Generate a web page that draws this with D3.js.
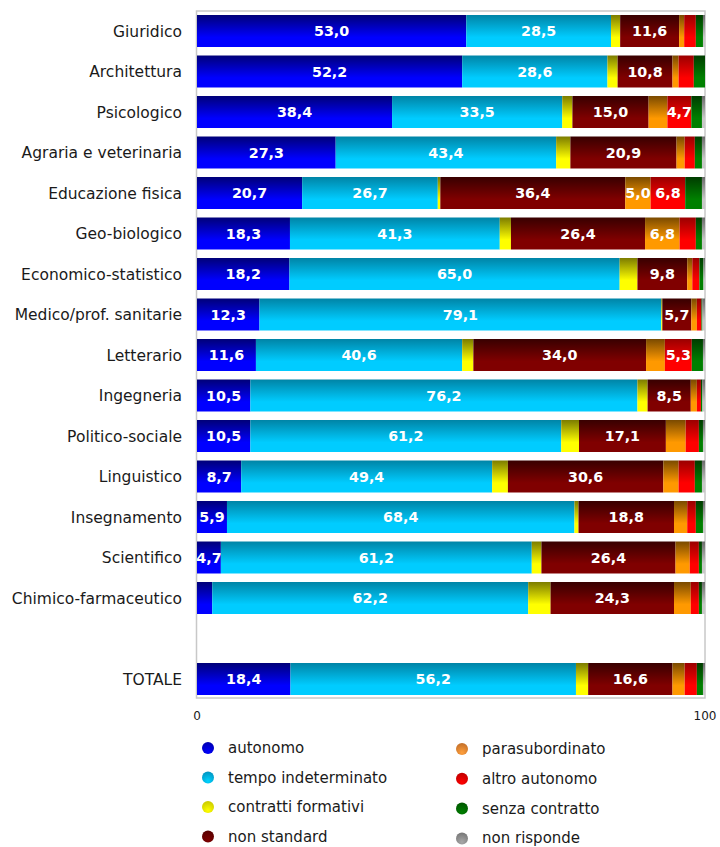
<!DOCTYPE html>
<html>
<head>
<meta charset="utf-8">
<script src="https://cdn.jsdelivr.net/npm/d3@7.9.0/dist/d3.min.js"></script>
<style>
  body { margin: 0; background: #fff; }
  svg { display: block; font-family: "DejaVu Sans", sans-serif; }
</style>
</head>
<body>
<svg id="chart" width="720" height="847"></svg>
<script>
const categories = ['Giuridico', 'Architettura', 'Psicologico', 'Agraria e veterinaria',
  'Educazione fisica', 'Geo-biologico', 'Economico-statistico', 'Medico/prof. sanitarie',
  'Letterario', 'Ingegneria', 'Politico-sociale', 'Linguistico', 'Insegnamento',
  'Scientifico', 'Chimico-farmaceutico', '', 'TOTALE'];

const seriesNames = ['autonomo', 'tempo indeterminato', 'contratti formativi', 'non standard',
  'parasubordinato', 'altro autonomo', 'senza contratto', 'non risponde'];

// one array per series, same order as categories (null = empty slot)
const autonomo     = [53.0, 52.2, 38.4, 27.3, 20.7, 18.3, 18.2, 12.3, 11.6, 10.5, 10.5, 8.7, 5.9, 4.7, 3.0, null, 18.4];
const tempoIndet   = [28.5, 28.6, 33.5, 43.4, 26.7, 41.3, 65.0, 79.1, 40.6, 76.2, 61.2, 49.4, 68.4, 61.2, 62.2, null, 56.2];
const formativi    = [1.8, 2.0, 2.0, 2.8, 0.5, 2.2, 3.5, 0.2, 2.2, 2.0, 3.5, 3.1, 0.8, 1.9, 4.4, null, 2.4];
const nonStandard  = [11.6, 10.8, 15.0, 20.9, 36.4, 26.4, 9.8, 5.7, 34.0, 8.5, 17.1, 30.6, 18.8, 26.4, 24.3, null, 16.6];
const parasub      = [1.0, 1.2, 3.7, 1.6, 5.0, 6.8, 1.0, 1.1, 3.7, 1.2, 3.9, 3.0, 2.6, 2.8, 3.3, null, 2.4];
const altroAuton   = [2.3, 3.0, 4.7, 2.0, 6.8, 3.2, 1.4, 0.9, 5.3, 0.8, 2.6, 3.2, 1.7, 1.8, 1.6, null, 2.4];
const senzaContr   = [1.4, 2.2, 2.1, 1.4, 3.3, 1.2, 0.8, 0.2, 2.2, 0.3, 0.8, 1.4, 1.4, 0.6, 0.6, null, 1.2];
const nonRisponde  = [0.4, 0.0, 0.6, 0.6, 0.6, 0.6, 0.3, 0.5, 0.4, 0.5, 0.4, 0.6, 0.4, 0.6, 0.6, null, 0.4];

const xTicks = [0, 100];

// gradient colours: [top, bottom]
const barColors = [
  ['#000078', '#0000ff'],
  ['#0084a6', '#00ccff'],
  ['#7c7c00', '#ffff00'],
  ['#380000', '#800000'],
  ['#7a4a00', '#ff9900'],
  ['#9a0000', '#ff0000'],
  ['#003c00', '#008000'],
  ['#6a6a6a', '#c8c8c8']
];
const dotColors = ['#0000cc', '#00aadd', '#e8e800', '#660000', '#e08030', '#dd0000', '#006600', '#888888'];

const allSeries = [autonomo, tempoIndet, formativi, nonStandard, parasub, altroAuton, senzaContr, nonRisponde];

const rows = categories.map((c, i) => {
  const r = { cat: c, key: 'r' + i };
  seriesNames.forEach((s, j) => r[s] = allSeries[j][i] || 0);
  return r;
});

const svg = d3.select('#chart');
const plotLeft = 197, plotRight = 705, plotTop = 10.75, plotBottom = 699.25;

const x = d3.scaleLinear().domain([0, 100]).range([plotLeft, plotRight]);
const y = d3.scaleBand().domain(rows.map(d => d.key)).range([plotTop, plotBottom]).paddingInner(0.21).paddingOuter(0.105);

const defs = svg.append('defs');
barColors.forEach((c, i) => {
  const g = defs.append('linearGradient').attr('id', 'bar' + i)
    .attr('x1', 0).attr('y1', 0).attr('x2', 0).attr('y2', 1);
  g.append('stop').attr('offset', '0').attr('stop-color', c[0]);
  g.append('stop').attr('offset', '0.7').attr('stop-color', c[1]);
  g.append('stop').attr('offset', '1').attr('stop-color', c[1]);
});
dotColors.forEach((c, i) => {
  const g = defs.append('radialGradient').attr('id', 'dot' + i)
    .attr('cx', 0.5).attr('cy', 0.8).attr('r', 0.8);
  g.append('stop').attr('offset', '0').attr('stop-color', d3.color(c).brighter(0.6));
  g.append('stop').attr('offset', '1').attr('stop-color', d3.color(c).darker(0.4));
});

// frame
svg.append('rect')
  .attr('x', plotLeft - 0.5).attr('y', 11)
  .attr('width', plotRight - plotLeft + 0.5).attr('height', 687)
  .attr('fill', 'none').attr('stroke', '#c8c8c8').attr('stroke-width', 1.5);

const stacked = d3.stack().keys(seriesNames)(rows.filter(d => d.cat !== ''));

const fmt = v => v.toFixed(1).replace('.', ',');

stacked.forEach((layer, i) => {
  const g = svg.append('g');
  g.selectAll('rect').data(layer).join('rect')
    .attr('x', d => x(d[0]))
    .attr('y', d => y(d.data.key))
    .attr('width', d => Math.max(0, x(d[1]) - x(d[0])))
    .attr('height', y.bandwidth())
    .attr('fill', `url(#bar${i})`);
  g.selectAll('text').data(layer.filter(d => d[1] - d[0] >= 4.5)).join('text')
    .attr('x', d => (x(d[0]) + x(d[1])) / 2)
    .attr('y', d => y(d.data.key) + y.bandwidth() / 2 + 5)
    .attr('text-anchor', 'middle')
    .attr('fill', '#fff')
    .attr('font-weight', 'bold')
    .attr('font-size', 14.3)
    .text(d => fmt(d[1] - d[0]));
});

// category labels
svg.append('g').selectAll('text').data(rows).join('text')
  .attr('x', 182)
  .attr('y', d => y(d.key) + y.bandwidth() / 2 + 5.5)
  .attr('text-anchor', 'end')
  .attr('fill', '#1a1a1a')
  .attr('font-size', 15.5)
  .text(d => d.cat);

// x tick labels
svg.append('g').selectAll('text').data(xTicks).join('text')
  .attr('x', d => x(d))
  .attr('y', 720)
  .attr('text-anchor', 'middle')
  .attr('fill', '#1a1a1a')
  .attr('font-size', 12)
  .text(d => d);

// legend
const legend = svg.append('g');
seriesNames.forEach((s, i) => {
  const col = Math.floor(i / 4), row = i % 4;
  const lx = col === 0 ? 208 : 462;
  const ly = col === 0 ? 748 + row * 29.5 : 749 + row * 29.8;
  legend.append('circle').attr('cx', lx).attr('cy', ly).attr('r', 6)
    .attr('fill', `url(#dot${i})`);
  legend.append('text').attr('x', lx + 20).attr('y', ly + 5)
    .attr('fill', '#1a1a1a').attr('font-size', 15).text(s);
});
</script>
</body>
</html>
